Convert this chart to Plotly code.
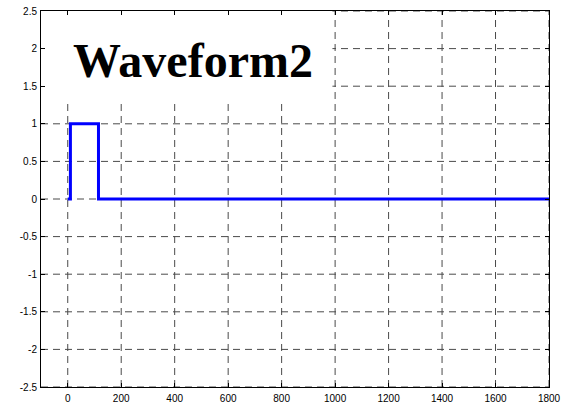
import plotly.graph_objects as go

# Waveform 2: a single rectangular pulse followed by a flat zero level
t_values = [0, 10, 10, 115, 115, 1800]
amplitude = [0, 0, 1, 1, 0, 0]

x_ticks = [0, 200, 400, 600, 800, 1000, 1200, 1400, 1600, 1800]
y_ticks = [-2.5, -2, -1.5, -1, -0.5, 0, 0.5, 1, 1.5, 2, 2.5]
y_tick_labels = ["-2.5", "-2", "-1.5", "-1", "-0.5", "0", "0.5", "1", "1.5", "2", "2.5"]

x_range = [-100, 1800]
y_range = [-2.5, 2.5]

title_text = "Waveform2"

fig = go.Figure()
fig.add_trace(go.Scatter(
    x=t_values, y=amplitude, mode="lines",
    line=dict(color="#0000FF", width=3),
    showlegend=False, hoverinfo="skip",
))

# dashed grid drawn as shapes underneath everything
grid_style = dict(color="#4a4a4a", width=1, dash="7px,5px")
for xv in x_ticks:
    fig.add_shape(type="line", xref="x", yref="y", x0=xv, x1=xv,
                  y0=y_range[0], y1=y_range[1], line=grid_style, layer="below")
for yv in y_ticks:
    fig.add_shape(type="line", xref="x", yref="y", x0=x_range[0], x1=x_range[1],
                  y0=yv, y1=yv, line=grid_style, layer="below")

# white panel behind the title, hiding the grid in that corner
fig.add_shape(
    type="rect", xref="x", yref="y",
    x0=x_range[0], x1=990, y0=1.3, y1=y_range[1],
    fillcolor="white", line=dict(width=0), layer="below",
)

fig.add_annotation(
    x=468, y=1.84, xref="x", yref="y",
    text="<b>%s</b>" % title_text, showarrow=False,
    font=dict(family="Liberation Serif, Times New Roman, serif", size=48, color="black"),
    xanchor="center", yanchor="middle",
)

axis_common = dict(
    showline=True, linecolor="black", linewidth=1, mirror="ticks",
    ticks="inside", ticklen=4, tickcolor="black", tickwidth=1,
    showgrid=False, zeroline=False, automargin=False,
    tickfont=dict(family="Liberation Sans, Arial, sans-serif", size=10, color="black"),
)

fig.update_xaxes(range=x_range, tickvals=x_ticks, ticklabelstandoff=2, **axis_common)
fig.update_yaxes(range=y_range, tickvals=y_ticks, ticktext=y_tick_labels,
                 ticklabelstandoff=1, **axis_common)

fig.update_layout(
    width=572, height=406,
    margin=dict(l=41, r=23, t=11, b=19),
    paper_bgcolor="white", plot_bgcolor="white",
)

fig.write_html("out.html")
